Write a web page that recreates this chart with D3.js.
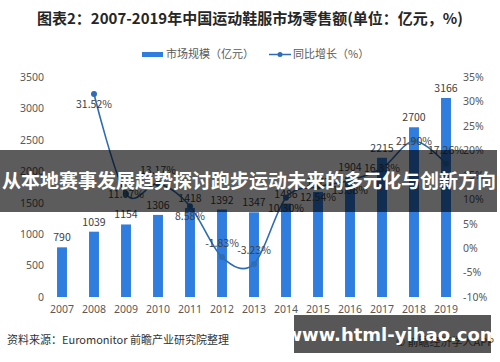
<!DOCTYPE html>
<html lang="zh">
<head>
  <meta charset="UTF-8">
  <title>2007-2019年中国运动鞋服市场零售额</title>
  <script src="https://d3js.org/d3.v7.min.js"></script>
  <style>
      body {
          margin: 0;
          padding: 0;
          background: #fff;
          font-family: 'Noto Sans CJK SC', 'Noto Sans', sans-serif;
          overflow: hidden;
      }
      svg { display: block; }
  </style>
</head>
<body>
  <svg width="500" height="362"></svg>
  <script>
      // data
      const years = ["2007", "2008", "2009", "2010", "2011", "2012", "2013", "2014", "2015", "2016", "2017", "2018", "2019"];
      const marketSize = [790, 1039, 1154, 1306, 1418, 1392, 1347, 1486, 1672, 1904, 2215, 2700, 3166];
      const growth = [null, 31.52, 11.07, 13.17, 8.58, -1.83, -3.23, 10.30, 12.54, 13.88, 16.33, 21.90, 17.26];
      const leftTicks = [0, 500, 1000, 1500, 2000, 2500, 3000, 3500];
      const rightTicks = [-10, -5, 0, 5, 10, 15, 20, 25, 30, 35];
      // where each growth label sits relative to its point
      const labelPos = ["", "below", "center", "above", "below", "above", "above", "below", "below", "below", "center", "center", "above"];

      const svg = d3.select("svg");
      const barColor = "#2f7ddf";
      const lineColor = "#2e6db6";
      const textColor = "#404040";

      const x = d3.scaleBand().domain(years).range([46, 462]).paddingInner(0.69).paddingOuter(0.345);
      const yLeft = d3.scaleLinear().domain([0, 3500]).range([297, 77]);
      const yRight = d3.scaleLinear().domain([-10, 35]).range([297, 77]);

      // title
      svg.append("text")
          .attr("x", 250).attr("y", 24)
          .attr("text-anchor", "middle")
          .attr("font-size", "15px")
          .attr("font-weight", "bold")
          .attr("fill", "#262626")
          .text("图表2：2007-2019年中国运动鞋服市场零售额(单位：亿元，%)");

      // legend
      const legend = svg.append("g").attr("font-size", "11px").attr("fill", "#595959");
      legend.append("rect").attr("x", 142).attr("y", 52).attr("width", 21).attr("height", 5).attr("fill", barColor);
      legend.append("text").attr("x", 166).attr("y", 58).attr("fill", "#595959").text("市场规模（亿元）");
      legend.append("line").attr("x1", 269).attr("x2", 291).attr("y1", 54.5).attr("y2", 54.5)
          .attr("stroke", lineColor).attr("stroke-width", 1.5);
      legend.append("circle").attr("cx", 280).attr("cy", 54.5).attr("r", 2.5).attr("fill", lineColor);
      legend.append("text").attr("x", 293).attr("y", 58).attr("fill", "#595959").text("同比增长（%）");

      // axes
      const axisLeft = svg.append("g")
          .attr("transform", "translate(44,0)")
          .call(d3.axisLeft(yLeft).tickValues(leftTicks).tickSize(0).tickPadding(0).tickFormat(d3.format("d")));
      const axisRight = svg.append("g")
          .attr("transform", "translate(463,0)")
          .call(d3.axisRight(yRight).tickValues(rightTicks).tickSize(0).tickPadding(0).tickFormat(d => d + "%"));
      const axisBottom = svg.append("g")
          .attr("transform", "translate(0,297)")
          .call(d3.axisBottom(x).tickSize(0).tickPadding(9));
      [axisLeft, axisRight, axisBottom].forEach(g => {
          g.select(".domain").remove();
          g.selectAll("text")
              .attr("fill", "#595959")
              .attr("font-size", "10.5px")
              .attr("font-family", "'Noto Sans', 'Noto Sans CJK SC', sans-serif");
      });

      // bars
      svg.append("g")
          .selectAll("rect")
          .data(marketSize)
          .join("rect")
          .attr("x", (d, i) => x(years[i]))
          .attr("y", d => yLeft(d))
          .attr("width", x.bandwidth())
          .attr("height", d => yLeft(0) - yLeft(d))
          .attr("fill", barColor);

      svg.append("g")
          .selectAll("text")
          .data(marketSize)
          .join("text")
          .attr("x", (d, i) => x(years[i]) + x.bandwidth() / 2)
          .attr("y", d => yLeft(d) - 6)
          .attr("text-anchor", "middle")
          .attr("font-size", "10.5px")
          .attr("fill", textColor)
          .text(d => d);

      // growth line
      const points = growth
          .map((g, i) => ({ year: years[i], value: g }))
          .filter(d => d.value !== null);
      const line = d3.line()
          .x(d => x(d.year) + x.bandwidth() / 2)
          .y(d => yRight(d.value))
          .curve(d3.curveCatmullRom.alpha(0));

      svg.append("path")
          .datum(points)
          .attr("d", line)
          .attr("fill", "none")
          .attr("stroke", lineColor)
          .attr("stroke-width", 1.6);

      svg.append("g")
          .selectAll("circle")
          .data(points)
          .join("circle")
          .attr("cx", d => x(d.year) + x.bandwidth() / 2)
          .attr("cy", d => yRight(d.value))
          .attr("r", 3)
          .attr("fill", lineColor);

      const shift = { above: -10, below: 14, center: 4 };
      svg.append("g")
          .selectAll("text")
          .data(points)
          .join("text")
          .attr("x", d => x(d.year) + x.bandwidth() / 2)
          .attr("y", d => yRight(d.value) + shift[labelPos[years.indexOf(d.year)]])
          .attr("text-anchor", "middle")
          .attr("font-size", "10.5px")
          .attr("fill", textColor)
          .text(d => d.value.toFixed(2) + "%");

      // source note
      svg.append("text")
          .attr("x", 7).attr("y", 344)
          .attr("font-size", "11px")
          .attr("fill", "#333")
          .text("资料来源：Euromonitor 前瞻产业研究院整理");
      svg.append("text")
          .attr("x", 396).attr("y", 346)
          .attr("font-size", "11px")
          .attr("fill", "#555")
          .text("© 前瞻经济学人APP");

      // overlay banners
      svg.append("rect")
          .attr("x", 0).attr("y", 150).attr("width", 497).attr("height", 62)
          .attr("fill", "#000").attr("opacity", 0.64);
      svg.append("text")
          .attr("x", 249).attr("y", 188)
          .attr("text-anchor", "middle")
          .attr("font-size", "19px")
          .attr("font-weight", "bold")
          .attr("fill", "#fff")
          .text("从本地赛事发展趋势探讨跑步运动未来的多元化与创新方向");

      svg.append("rect")
          .attr("x", 294).attr("y", 315).attr("width", 197).attr("height", 38)
          .attr("fill", "#000").attr("opacity", 0.66);
      svg.append("text")
          .attr("x", 392).attr("y", 341)
          .attr("text-anchor", "middle")
          .attr("font-size", "18px")
          .attr("font-weight", "bold")
          .attr("font-family", "'DejaVu Sans', sans-serif")
          .attr("fill", "#fff")
          .text("www.html-yihao.com");
  </script>
</body>
</html>
